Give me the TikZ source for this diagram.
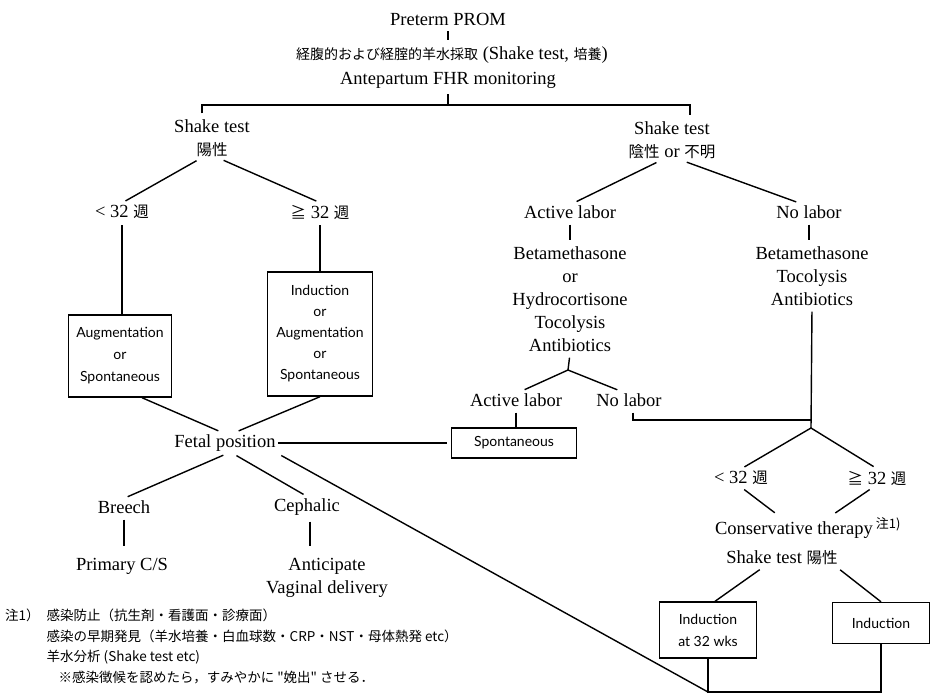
\documentclass[tikz,border=0pt]{standalone}
\usepackage{fontspec}
\setmainfont{Liberation Serif}
\newfontfamily\jp{Noto Sans CJK JP}
\newfontfamily\boxfont{Lato}
\newcommand{\jt}[1]{{\jp\fontsize{15.5}{23}\selectfont #1}}
\usetikzlibrary{positioning}

\begin{document}
\begin{tikzpicture}[x=1pt, y=-1pt,
    txt/.style={inner sep=2pt, align=center, font=\fontsize{18.5}{23}\selectfont},
    block/.style={rectangle, draw, line width=1.4pt, inner sep=3pt, align=center, font=\boxfont\fontsize{14}{22}\selectfont},
    link/.style={line width=1.4pt, shorten <=4pt, shorten >=4pt}
]
    \useasboundingbox (0,0) rectangle (932,697);

    \node[txt] (prom) at (448,19) {Preterm PROM};
    \node[txt] (sample) at (452,55) {{\jp\fontsize{14}{20}\selectfont 経腹的および経腟的羊水採取}\ (Shake test, {\jp\fontsize{14}{20}\selectfont 培養})};
    \node[txt] (fhr) at (448,80) {Antepartum FHR monitoring};
    \coordinate (sl) at (202,105);
    \coordinate (sr) at (690,105);

    \node[txt] (stp) at (212,138) {Shake test\\\jt{陽性}};
    \node[txt] (lt1) at (122,212) {< 32 \jt{週}};
    \node[txt] (ge1) at (320,212) {\jt{≧} 32 \jt{週}};
    \node[block, minimum width=103pt, minimum height=82pt] (box1) at (120,356) {Augmentation\\or\\Spontaneous};
    \node[block, minimum width=105pt, minimum height=124pt, font=\boxfont\fontsize{14}{21}\selectfont] (box2) at (320,334) {Induction\\or\\Augmentation\\or\\Spontaneous};
    \node[txt] (fetal) at (225,443) {Fetal position};
    \node[txt] (breech) at (124,507) {Breech};
    \node[txt] (ceph) at (307,507) {Cephalic};
    \node[txt] (cs) at (122,566) {Primary C/S};
    \node[txt] (vag) at (327,578) {Anticipate\\Vaginal delivery};

    \node[txt] (stn) at (672,140) {Shake test\\\jt{陰性} or \jt{不明}};
    \node[txt] (al1) at (570,212) {Active labor};
    \node[txt] (nl1) at (809,212) {No labor};
    \node[txt] (drugs1) at (570,299) {Betamethasone\\or\\Hydrocortisone\\Tocolysis\\Antibiotics};
    \node[txt] (drugs2) at (812,276) {Betamethasone\\Tocolysis\\Antibiotics};
    \coordinate (fork1) at (568,370);
    \node[txt] (al2) at (516,400) {Active labor};
    \node[txt] (nl2) at (629,400) {No labor};
    \node[block, minimum width=125pt, minimum height=30pt] (spont) at (514,443) {Spontaneous};
    \coordinate (split) at (811,420);
    \coordinate (fork2) at (811,428);
    \node[txt] (lt2) at (741,478) {< 32 \jt{週}};
    \node[txt] (ge2) at (877,478) {\jt{≧} 32 \jt{週}};
    \node[txt] (cons) at (808,528) {Conservative therapy\,\textsuperscript{\jp 注1)}};
    \node[txt] (stp2) at (782,558) {Shake test \jt{陽性}};
    \node[block, minimum width=97pt, minimum height=56pt] (ind32) at (708,630) {Induction\\at 32 wks};
    \node[block, minimum width=97pt, minimum height=41pt] (ind) at (881,623) {Induction};
    \coordinate (bot) at (0,692);

    \node[anchor=north west, inner sep=0pt, font=\jp\fontsize{13.5}{20.5}\selectfont] (note) at (5,606) {\begin{tabular}{@{}l@{\hspace{7pt}}l@{}}注1） & 感染防止（抗生剤・看護面・診療面）\\ & 感染の早期発見（羊水培養・白血球数・CRP・NST・母体熱発 etc）\\ & 羊水分析 (Shake test etc)\\ & \hspace{12pt}※感染徴候を認めたら，すみやかに "娩出" させる．\end{tabular}};

    \draw[link] (prom.south) -- (prom.south |- sample.north);
    \draw[link, shorten >=0pt] (fhr.south) -- (fhr.south |- sl);
    \draw[link] (stp.north -| sl) -- (sl) -- (sr) -- (stn.north -| sr);
    \draw[link] ([xshift=-12pt]stp.south) -- (lt1.north);
    \draw[link] ([xshift=8pt]stp.south) -- (ge1.north);
    \draw[link, shorten >=0pt] (lt1.south) -- (lt1.south |- box1.north);
    \draw[link, shorten >=0pt] (ge1.south) -- (box2.north);
    \draw[link, shorten <=0pt] ([xshift=22pt]box1.south) -- ([xshift=-3pt]fetal.north);
    \draw[link, shorten <=0pt] (box2.south) -- ([xshift=10pt]fetal.north);
    \draw[link] ([xshift=2pt]fetal.south) -- (breech.north);
    \draw[link] ([xshift=8pt]fetal.south) -- (ceph.north);
    \draw[link, shorten >=10pt] (breech.south) -- (breech.south |- cs.north);
    \draw[link, shorten >=10pt] ([xshift=3pt]ceph.south) -- ([xshift=3pt]ceph.south |- vag.north);

    \draw[link] ([xshift=-12pt]stn.south) -- ([xshift=3pt]al1.north);
    \draw[link] ([xshift=11pt]stn.south) -- ([xshift=-9pt]nl1.north);
    \draw[link] (al1.south) -- (al1.south |- drugs1.north);
    \draw[link] (nl1.south) -- (nl1.south |- drugs2.north);
    \draw[link, shorten >=0pt] (drugs1.south) -- (fork1);
    \draw[link] ([xshift=5pt]al2.north) -- (fork1) -- ([xshift=-8pt]nl2.north);
    \draw[link, shorten >=0pt] (al2.south) -- (al2.south |- spont.north);
    \draw[link, shorten <=0pt] (fetal.east) -- (spont.west);
    \draw[link, shorten >=0pt] ([xshift=4pt]nl2.south) |- (split);
    \draw[link, shorten >=0pt] (drugs2.south) -- (fork2);
    \draw[link] (lt2.north) -- (fork2) -- (ge2.north);
    \draw[link] (lt2.south) -- ([xshift=-30pt]cons.north);
    \draw[link] ([xshift=-4pt]ge2.south) -- ([xshift=24pt]cons.north);
    \draw[link, shorten >=0pt] ([xshift=-19pt]stp2.south) -- ([xshift=7pt]ind32.north);
    \draw[link, shorten >=0pt] ([xshift=55pt]stp2.south) -- (ind.north);
    \draw[link, shorten <=0pt, shorten >=0pt] (ind32.south) -- (ind32.south |- bot) -| (ind.south);
    \draw[link, shorten >=0pt] (fetal.south east) -- (ind32.south |- bot);
\end{tikzpicture}
\end{document}
